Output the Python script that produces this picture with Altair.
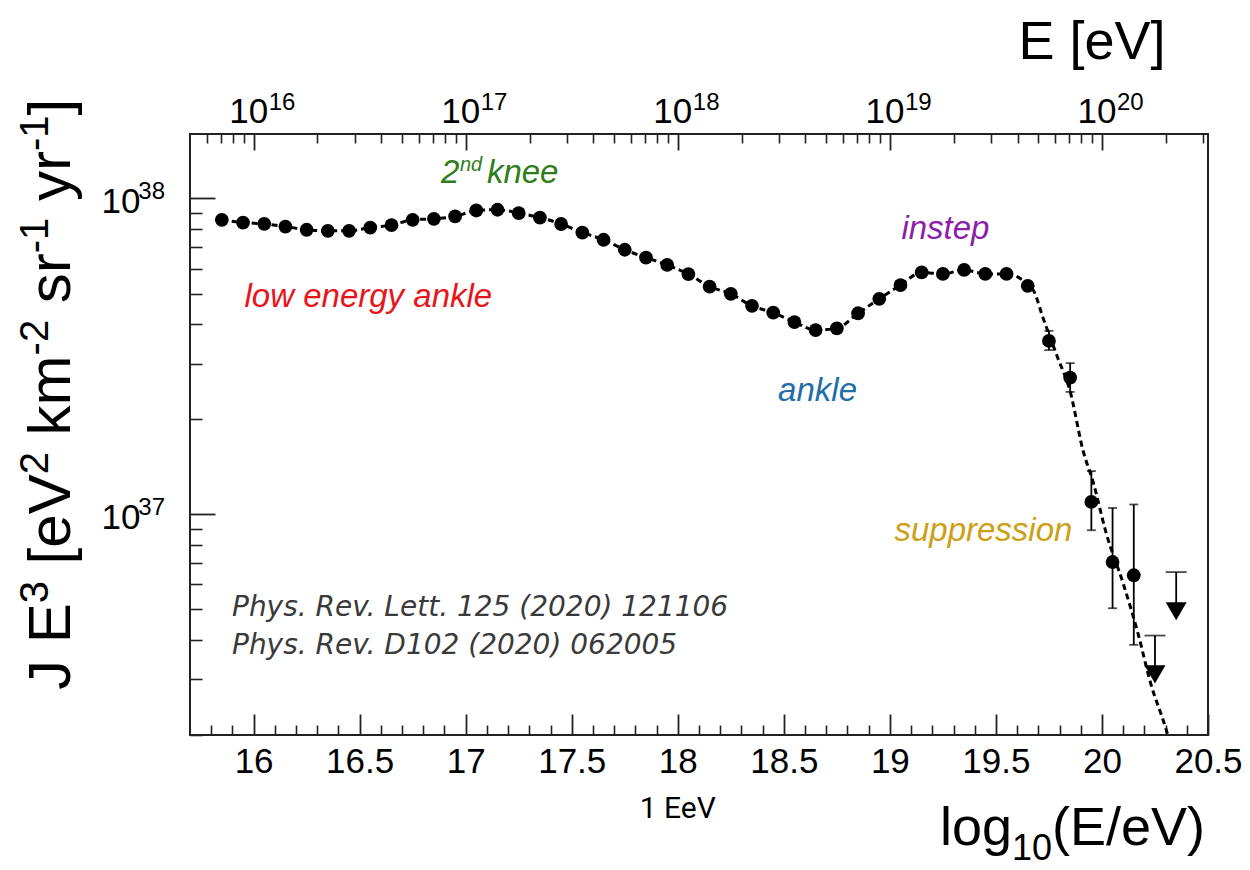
import math
import altair as alt
import pandas as pd

# ---------------- values ----------------
log_e = [15.85, 15.95, 16.05, 16.15, 16.25, 16.35, 16.45, 16.55, 16.65, 16.75,
         16.85, 16.95, 17.05, 17.15, 17.25, 17.35, 17.45, 17.55, 17.65, 17.75,
         17.85, 17.95, 18.05, 18.15, 18.25, 18.35, 18.45, 18.55, 18.65, 18.75,
         18.85, 18.95, 19.05, 19.15, 19.25, 19.35, 19.45, 19.55, 19.65, 19.75,
         19.85, 19.95, 20.05, 20.15]
flux = [8.56e37, 8.39e37, 8.31e37, 8.15e37, 7.96e37, 7.90e37, 7.90e37, 8.09e37, 8.23e37, 8.56e37,
        8.62e37, 8.77e37, 9.16e37, 9.21e37, 8.99e37, 8.70e37, 8.30e37, 7.80e37, 7.40e37, 6.88e37,
        6.50e37, 6.16e37, 5.76e37, 5.26e37, 4.99e37, 4.57e37, 4.35e37, 4.06e37, 3.83e37, 3.88e37,
        4.33e37, 4.81e37, 5.32e37, 5.83e37, 5.77e37, 5.94e37, 5.77e37, 5.77e37, 5.29e37, 3.54e37,
        2.71e37, 1.094e37, 7.06e36, 6.41e36]

err_x = [19.75, 19.85, 19.95, 20.05, 20.15]
err_hi = [3.81e37, 3.01e37, 1.37e37, 1.047e37, 1.074e37]
err_lo = [3.31e37, 2.44e37, 8.90e36, 5.04e36, 3.86e36]

ul_x = [20.25, 20.35]
ul_val = [4.13e36, 6.56e36]
ul_arrow = [3.11e36, 4.93e36]

fit_x = [15.85, 15.95, 16.05, 16.15, 16.25, 16.35, 16.45, 16.55, 16.65, 16.75,
         16.85, 16.95, 17.05, 17.15, 17.25, 17.35, 17.45, 17.55, 17.65, 17.75,
         17.85, 17.95, 18.05, 18.15, 18.25, 18.35, 18.45, 18.55, 18.65, 18.75,
         18.85, 18.95, 19.05, 19.15, 19.25, 19.35, 19.45, 19.55, 19.62, 19.68,
         19.72, 19.79, 19.85, 19.91, 19.96, 20.02, 20.10, 20.17, 20.23, 20.30, 20.32]
fit_y = [8.56e37, 8.39e37, 8.31e37, 8.15e37, 7.96e37, 7.90e37, 7.90e37, 8.09e37, 8.23e37, 8.56e37,
         8.62e37, 8.77e37, 9.16e37, 9.21e37, 8.99e37, 8.70e37, 8.30e37, 7.80e37, 7.40e37, 6.88e37,
         6.50e37, 6.16e37, 5.76e37, 5.26e37, 4.99e37, 4.57e37, 4.35e37, 4.06e37, 3.83e37, 3.88e37,
         4.33e37, 4.81e37, 5.32e37, 5.83e37, 5.77e37, 5.94e37, 5.77e37, 5.77e37, 5.55e37, 5.07e37,
         4.23e37, 3.15e37, 2.45e37, 1.60e37, 1.254e37, 8.71e36, 6.04e36, 4.19e36, 2.91e36, 2.11e36, 1.90e36]

label_text = ["low energy ankle", "ankle", "instep", "suppression"]
label_x = [16.541, 18.659, 19.262, 19.441]
label_y = [4.53e37, 2.282e37, 7.45e37, 8.21e36]
label_color = ["#e8151b", "#1f6ea8", "#8c1eaa", "#cca014"]

knee_x = [16.883]
knee_y = [1.121e38]

cite_text = ["Phys. Rev. Lett. 125 (2020) 121106", "Phys. Rev. D102 (2020) 062005"]
cite_x = [15.898, 15.898]
cite_y = [4.78e36, 3.62e36]

# axis ticks and labels
bottom_major = [16, 16.5, 17, 17.5, 18, 18.5, 19, 19.5, 20, 20.5]
bottom_minor = [round(15.8 + 0.1 * i, 1) for i in range(47)]
bottom_minor = [v for v in bottom_minor if abs(v * 2 - round(v * 2)) > 1e-6]
left_major = [1e37, 1e38]
left_exp = ["37", "38"]
left_minor = [k * 1e36 for k in range(2, 10)] + [k * 1e37 for k in range(2, 10)]
top_major = [16, 17, 18, 19, 20]
top_exp = ["16", "17", "18", "19", "20"]
top_minor = [n + math.log10(k) for n in range(15, 21) for k in range(2, 10)
             if 15.7 <= n + math.log10(k) <= 20.5]

# ---------------- chart ----------------
W, H = 1018, 601
PAD_L, PAD_T = 190, 134
FONT = "Liberation Sans"
TICK = "#222222"

xs = alt.Scale(domain=[15.7, 20.5], nice=False, zero=False)
ys = alt.Scale(type="log", domain=[2e36, 1.6e38], nice=False)

ax_bottom_major = alt.Axis(orient="bottom", values=bottom_major, tickSize=21, offset=-21,
                           tickColor=TICK, tickWidth=1.8, domain=False, grid=False,
                           labelFont=FONT, labelFontSize=35, labelColor="black",
                           labelBaseline="alphabetic", labelPadding=37, labelFlush=False,
                           labelOverlap=False, format="~g", title=None)
ax_bottom_minor = alt.Axis(orient="bottom", values=bottom_minor, tickSize=10, offset=-10,
                           tickColor=TICK, tickWidth=1.6, domain=False, grid=False,
                           labels=False, title=None)
ax_left_major = alt.Axis(orient="left", values=left_major, tickSize=25, offset=-25,
                         tickColor=TICK, tickWidth=1.8, domain=False, grid=False,
                         labelFont=FONT, labelFontSize=35, labelColor="black", labelPadding=50,
                         labelExpr="'10'", labelOffset=3, title=None)
ax_left_minor = alt.Axis(orient="left", values=left_minor, tickSize=12, offset=-12,
                         tickColor=TICK, tickWidth=1.6, domain=False, grid=False,
                         labels=False, title=None)
ax_top_major = alt.Axis(orient="top", values=top_major, tickSize=16, offset=-16,
                        tickColor=TICK, tickWidth=1.8, domain=False, grid=False,
                        labelFont=FONT, labelFontSize=35, labelColor="black",
                        labelBaseline="alphabetic", labelPadding=12, labelFlush=False,
                        labelOverlap=False, labelExpr="'10'", labelAlign="right", labelOffset=14,
                        title="E [eV]", titleFont=FONT, titleFontSize=54,
                        titleFontWeight="normal", titleColor="black",
                        titleX=975, titleY=-92, titleAlign="right", titleBaseline="alphabetic")
ax_top_minor = alt.Axis(orient="top", values=top_minor, tickSize=9, offset=-9,
                        tickColor=TICK, tickWidth=1.6, domain=False, grid=False,
                        labels=False, title=None)

fit_df = pd.DataFrame({"x": fit_x, "y": fit_y})
pts_df = pd.DataFrame({"x": log_e, "y": flux})
err_df = pd.DataFrame({"x": err_x, "lo": err_lo, "hi": err_hi})
cap_df = pd.DataFrame({"x": err_x + err_x, "y": err_lo + err_hi})
ul_df = pd.DataFrame({"x": ul_x, "v": ul_val, "a": ul_arrow})
lab_df = pd.DataFrame({"x": label_x, "y": label_y, "t": label_text, "c": label_color})
knee_df = pd.DataFrame({"x": knee_x, "y": knee_y})
cite_df = pd.DataFrame({"x": cite_x, "y": cite_y, "t": cite_text})
eev_df = pd.DataFrame({"x": [18.0], "t": ["1 EeV"]})
top_exp_df = pd.DataFrame({"x": top_major, "t": top_exp})
left_exp_df = pd.DataFrame({"y": left_major, "t": left_exp})

fit = alt.Chart(fit_df).mark_line(color="black", strokeWidth=3, strokeDash=[6, 4],
                                  interpolate="monotone", clip=True).encode(
    x=alt.X("x:Q", scale=xs, axis=ax_bottom_major),
    y=alt.Y("y:Q", scale=ys, axis=ax_left_major))

pts = alt.Chart(pts_df).mark_point(shape="circle", filled=True, size=190, color="black",
                                   opacity=1).encode(
    x=alt.X("x:Q", scale=xs, axis=ax_bottom_minor),
    y=alt.Y("y:Q", scale=ys, axis=ax_left_minor))

errs = alt.Chart(err_df).mark_rule(color="black", strokeWidth=1.8).encode(
    x=alt.X("x:Q", scale=xs, axis=ax_top_major),
    y=alt.Y("lo:Q", scale=ys, axis=None),
    y2="hi:Q")

caps = alt.Chart(cap_df).mark_tick(color="black", orient="horizontal", size=9,
                                   thickness=1.8).encode(
    x=alt.X("x:Q", scale=xs, axis=ax_top_minor),
    y=alt.Y("y:Q", scale=ys, axis=None))

ul_line = alt.Chart(ul_df).mark_rule(color="black", strokeWidth=1.8).encode(
    x=alt.X("x:Q", scale=xs, axis=None),
    y=alt.Y("v:Q", scale=ys, axis=None),
    y2="a:Q")
ul_bar = alt.Chart(ul_df).mark_tick(color="black", orient="horizontal", size=21,
                                    thickness=1.8).encode(
    x=alt.X("x:Q", scale=xs, axis=None),
    y=alt.Y("v:Q", scale=ys, axis=None))
ul_tri = alt.Chart(ul_df).mark_point(shape="triangle-down", filled=True, size=440,
                                     color="black", opacity=1).encode(
    x=alt.X("x:Q", scale=xs, axis=None),
    y=alt.Y("a:Q", scale=ys, axis=None))

labels = alt.Chart(lab_df).mark_text(font=FONT, fontSize=33, fontStyle="italic",
                                     align="center", baseline="alphabetic").encode(
    x=alt.X("x:Q", scale=xs, axis=None),
    y=alt.Y("y:Q", scale=ys, axis=None),
    text="t:N",
    color=alt.Color("c:N", scale=None))

KNEE = "#2e7d19"
knee_base = alt.Chart(knee_df).encode(x=alt.X("x:Q", scale=xs, axis=None),
                                      y=alt.Y("y:Q", scale=ys, axis=None))
knee_2 = knee_base.mark_text(text="2", font=FONT, fontSize=33, fontStyle="italic",
                             align="left", baseline="alphabetic", color=KNEE)
knee_nd = knee_base.mark_text(text="nd", font=FONT, fontSize=20, fontStyle="italic",
                              align="left", baseline="alphabetic", color=KNEE, dx=19, dy=-12)
knee_w = knee_base.mark_text(text="knee", font=FONT, fontSize=33, fontStyle="italic",
                             align="left", baseline="alphabetic", color=KNEE, dx=46)

cite = alt.Chart(cite_df).mark_text(font="DejaVu Sans", fontSize=28, fontStyle="italic",
                                    align="left", baseline="alphabetic", color="#3a3a3a").encode(
    x=alt.X("x:Q", scale=xs, axis=None),
    y=alt.Y("y:Q", scale=ys, axis=None),
    text="t:N")

eev = alt.Chart(eev_df).mark_text(font="Roboto", fontSize=30, align="center",
                                  baseline="alphabetic", color="black").encode(
    x=alt.X("x:Q", scale=xs, axis=None),
    y=alt.value(684),
    text="t:N")

top_sup = alt.Chart(top_exp_df).mark_text(font=FONT, fontSize=24, align="left",
                                          baseline="alphabetic", color="black", dx=15).encode(
    x=alt.X("x:Q", scale=xs, axis=None),
    y=alt.value(-24),
    text="t:N")
left_sup = alt.Chart(left_exp_df).mark_text(font=FONT, fontSize=24, align="right",
                                            baseline="alphabetic", color="black", dy=1).encode(
    x=alt.value(-25),
    y=alt.Y("y:Q", scale=ys, axis=None),
    text="t:N")

# ---- axis titles built from pieces (for proper super/subscripts) ----
ADV = {"J": 500, " ": 278, "E": 667, "[": 278, "e": 556, "V": 667, "k": 500, "m": 833,
       "s": 500, "r": 333, "y": 500, "]": 278, "-": 333, "(": 333, ")": 333, "/": 278,
       "l": 222, "o": 556, "g": 556}
for d in "0123456789":
    ADV[d] = 556


def text_width(s, size):
    return sum(ADV[c] for c in s) * size / 1000.0


one = pd.DataFrame({"a": [0]})
title_layers = []

# y title, rotated, reading upwards: J E^3 [eV^2 km^-2 sr^-1 yr^-1]
YF, YS, YRAISE = 60, 40, 22
y_pieces = [("J E", False), ("3", True), (" ", None), ("[eV", False), ("2", True), (" ", None),
            ("km", False), ("-2", True), (" ", None), ("sr", False), ("-1", True), (" ", None),
            ("yr", False), ("-1", True), ("]", False)]
y_base_x = 70 - PAD_L
y_pos = 690 - PAD_T
for txt, sup in y_pieces:
    if sup is None:
        y_pos -= text_width(" ", YF)
        continue
    size = YS if sup else YF
    title_layers.append(
        alt.Chart(one).mark_text(text=txt, font=FONT, fontSize=size, angle=270, align="left",
                                 baseline="alphabetic", color="black").encode(
            x=alt.value(y_base_x - (YRAISE if sup else 0)), y=alt.value(y_pos)))
    y_pos -= text_width(txt, size)

# x title: log_10(E/eV), right aligned at the frame end
XF, XS, XLOW = 54, 36, 15
x_right = 1205 - PAD_L
x_base_y = 845 - PAD_T
x_pieces = [("log", False), ("10", True), ("(E/eV)", False)]
total = sum(text_width(t, XS if s else XF) for t, s in x_pieces)
x_pos = x_right - total
for txt, sub in x_pieces:
    size = XS if sub else XF
    title_layers.append(
        alt.Chart(one).mark_text(text=txt, font=FONT, fontSize=size, align="left",
                                 baseline="alphabetic", color="black").encode(
            x=alt.value(x_pos), y=alt.value(x_base_y + (XLOW if sub else 0))))
    x_pos += text_width(txt, size)

chart = alt.layer(fit, pts, errs, caps, ul_line, ul_bar, ul_tri, labels,
                  knee_2, knee_nd, knee_w, cite, eev, top_sup, left_sup,
                  *title_layers).resolve_axis(
    x="independent", y="independent"
).properties(
    width=W, height=H,
    padding={"left": PAD_L, "top": PAD_T, "right": 42, "bottom": 135},
    autosize=alt.AutoSizeParams(type="none"),
    background="white",
).configure_view(stroke="#222222", strokeWidth=2)

chart.save("out.html", embed_options={"renderer": "svg", "actions": False})
